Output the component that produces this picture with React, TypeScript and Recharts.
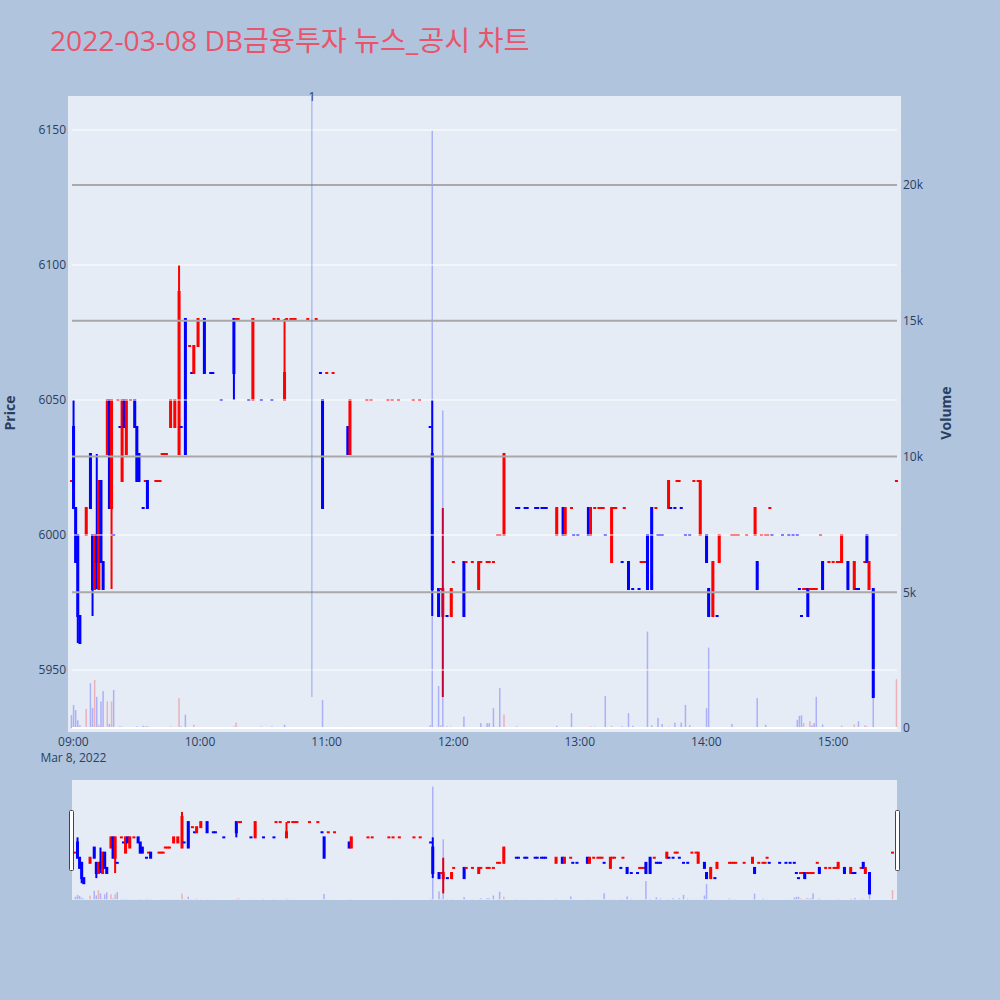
import React from 'react';
import { ComposedChart, Bar, XAxis, YAxis, ReferenceLine } from 'recharts';

// ---------- data (minutes after 09:00, prices in KRW, volume in shares) ----------
const minutes = [
  -1, 0, 1, 2, 3, 6, 8, 9, 10, 11,
  12, 13, 14, 16, 17, 18, 19, 21, 22, 23,
  24, 25, 27, 29, 30, 31, 33, 34, 35, 39,
  40, 41, 42, 43, 44, 46, 48, 50, 51, 53,
  55, 56, 57, 59, 62, 65, 66, 70, 76, 77,
  78, 83, 85, 89, 94, 95, 97, 100, 101, 103,
  104, 105, 111, 115, 117, 118, 120, 123, 130, 131,
  139, 141, 149, 151, 154, 161, 164, 169, 170, 173,
  174, 175, 177, 179, 180, 185, 186, 189, 192, 193,
  196, 197, 199, 201, 202, 204, 210, 211, 214, 215,
  219, 220, 222, 223, 224, 229, 232, 233, 236, 237,
  239, 244, 245, 247, 249, 250, 251, 252, 255, 256,
  257, 260, 261, 263, 265, 268, 269, 270, 271, 272,
  274, 276, 277, 278, 279, 282, 283, 285, 286, 287,
  288, 290, 292, 294, 296, 297, 300, 301, 303, 305,
  306, 312, 313, 314, 315, 319, 323, 324, 326, 328,
  329, 330, 331, 336, 339, 341, 343, 344, 345, 346,
  347, 348, 349, 350, 351, 352, 354, 355, 358, 360,
  362, 363, 364, 367, 370, 371, 372, 375, 376, 377,
  379, 390,
];

const opens = [
  6020, 6040, 6010, 6000, 5970, 6000, 6030, 6000, 5980, 6000,
  5980, 6020, 5990, 6030, 6050, 6010, 6000, 6050, 6040, 6020,
  6050, 6030, 6050, 6050, 6040, 6030, 6010, 6020, 6020, 6020,
  6020, 6020, 6030, 6030, 6030, 6040, 6040, 6030, 6040, 6080,
  6070, 6060, 6060, 6070, 6080, 6060, 6060, 6050, 6080, 6080,
  6080, 6050, 6050, 6050, 6050, 6080, 6080, 6050, 6080, 6080,
  6080, 6080, 6080, 6080, 6060, 6050, 6060, 6060, 6040, 6030,
  6050, 6050, 6050, 6050, 6050, 6050, 6050, 6040, 6030, 5980,
  5980, 5970, 5970, 5970, 5990, 5990, 5990, 5990, 5980, 5990,
  5990, 5990, 5990, 6000, 6000, 6000, 6010, 6010, 6010, 6010,
  6010, 6010, 6010, 6010, 6010, 6000, 6010, 6000, 6010, 6000,
  6000, 6010, 6000, 6010, 6010, 6010, 6010, 6000, 5990, 6010,
  6010, 5990, 6010, 5990, 5980, 5980, 5990, 5990, 5990, 6000,
  6010, 6010, 6000, 6000, 6000, 6010, 6010, 6010, 6020, 6020,
  6010, 6000, 6000, 6020, 6020, 6000, 6000, 5980, 5970, 5970,
  5990, 6000, 6000, 6000, 6000, 6000, 6000, 5990, 6000, 6000,
  6000, 6010, 6000, 6000, 6000, 6000, 6000, 5980, 5970, 5980,
  5980, 5980, 5980, 5980, 5980, 5980, 6000, 5990, 5990, 5990,
  5990, 5990, 5990, 5990, 5980, 5980, 5980, 5990, 6000, 5980,
  5980, 6020,
];

const highs = [
  6020, 6050, 6010, 6000, 5970, 6010, 6030, 6000, 6000, 6030,
  6020, 6020, 5990, 6050, 6050, 6050, 6000, 6050, 6040, 6050,
  6050, 6050, 6050, 6050, 6040, 6030, 6010, 6020, 6020, 6020,
  6020, 6020, 6030, 6030, 6030, 6050, 6050, 6100, 6040, 6080,
  6070, 6060, 6070, 6080, 6080, 6060, 6060, 6050, 6080, 6080,
  6080, 6050, 6080, 6050, 6050, 6080, 6080, 6080, 6080, 6080,
  6080, 6080, 6080, 6080, 6060, 6050, 6060, 6060, 6040, 6050,
  6050, 6050, 6050, 6050, 6050, 6050, 6050, 6040, 6050, 5980,
  5980, 6010, 5970, 5980, 5990, 5990, 5990, 5990, 5990, 5990,
  5990, 5990, 5990, 6000, 6000, 6030, 6010, 6010, 6010, 6010,
  6010, 6010, 6010, 6010, 6010, 6010, 6010, 6010, 6010, 6000,
  6000, 6010, 6010, 6010, 6010, 6010, 6010, 6000, 6010, 6010,
  6010, 5990, 6010, 5990, 5980, 5980, 5990, 5990, 5990, 6000,
  6010, 6010, 6000, 6000, 6000, 6020, 6010, 6010, 6020, 6020,
  6010, 6000, 6000, 6020, 6020, 6020, 6000, 5980, 5990, 5970,
  6000, 6000, 6000, 6000, 6000, 6000, 6010, 5990, 6000, 6000,
  6000, 6010, 6000, 6000, 6000, 6000, 6000, 5980, 5970, 5980,
  5980, 5980, 5980, 5980, 5980, 5980, 6000, 5990, 5990, 5990,
  5990, 5990, 6000, 5990, 5990, 5980, 5980, 5990, 6000, 5990,
  5980, 6020,
];

const lows = [
  6020, 6010, 5990, 5960, 5960, 6000, 6010, 5970, 5980, 5980,
  5980, 5990, 5980, 6030, 6010, 5980, 6000, 6050, 6040, 6020,
  6040, 6030, 6050, 6040, 6020, 6020, 6010, 6020, 6010, 6020,
  6020, 6020, 6030, 6030, 6030, 6040, 6040, 6030, 6040, 6030,
  6070, 6060, 6060, 6070, 6060, 6060, 6060, 6050, 6050, 6080,
  6080, 6050, 6050, 6050, 6050, 6080, 6080, 6050, 6080, 6080,
  6080, 6080, 6080, 6080, 6060, 6010, 6060, 6060, 6030, 6030,
  6050, 6050, 6050, 6050, 6050, 6050, 6050, 6040, 5970, 5970,
  5980, 5940, 5970, 5970, 5990, 5970, 5990, 5990, 5980, 5990,
  5990, 5990, 5990, 6000, 6000, 6000, 6010, 6010, 6010, 6010,
  6010, 6010, 6010, 6010, 6010, 6000, 6000, 6000, 6010, 6000,
  6000, 6000, 6000, 6010, 6010, 6010, 6010, 6000, 5990, 6010,
  6010, 5990, 6010, 5980, 5980, 5980, 5990, 5990, 5990, 5980,
  5980, 6010, 6000, 6000, 6000, 6010, 6010, 6010, 6020, 6020,
  6010, 6000, 6000, 6020, 6020, 6000, 5990, 5970, 5970, 5970,
  5990, 6000, 6000, 6000, 6000, 6000, 6000, 5980, 6000, 6000,
  6000, 6010, 6000, 6000, 6000, 6000, 6000, 5980, 5970, 5980,
  5980, 5970, 5980, 5980, 5980, 5980, 6000, 5980, 5990, 5990,
  5990, 5990, 5990, 5980, 5980, 5980, 5980, 5990, 5990, 5980,
  5940, 6020,
];

const closes = [
  6020, 6010, 5990, 5970, 5960, 6010, 6010, 5980, 6000, 5990,
  6020, 5990, 5980, 6050, 6010, 6050, 6000, 6050, 6040, 6050,
  6040, 6050, 6050, 6040, 6020, 6020, 6010, 6020, 6010, 6020,
  6020, 6020, 6030, 6030, 6030, 6050, 6050, 6090, 6040, 6030,
  6070, 6060, 6070, 6080, 6060, 6060, 6060, 6050, 6060, 6080,
  6080, 6050, 6080, 6050, 6050, 6080, 6080, 6060, 6080, 6080,
  6080, 6080, 6080, 6080, 6060, 6010, 6060, 6060, 6030, 6050,
  6050, 6050, 6050, 6050, 6050, 6050, 6050, 6040, 5980, 5970,
  5980, 5980, 5970, 5980, 5990, 5970, 5990, 5990, 5990, 5990,
  5990, 5990, 5990, 6000, 6000, 6030, 6010, 6010, 6010, 6010,
  6010, 6010, 6010, 6010, 6010, 6010, 6000, 6010, 6010, 6000,
  6000, 6000, 6010, 6010, 6010, 6010, 6010, 6000, 6010, 6010,
  6010, 5990, 6010, 5980, 5980, 5980, 5990, 5990, 5990, 5980,
  5980, 6010, 6000, 6000, 6000, 6020, 6010, 6010, 6020, 6020,
  6010, 6000, 6000, 6020, 6020, 6020, 5990, 5970, 5990, 5970,
  6000, 6000, 6000, 6000, 6000, 6000, 6010, 5980, 6000, 6000,
  6000, 6010, 6000, 6000, 6000, 6000, 6000, 5980, 5970, 5980,
  5980, 5970, 5980, 5980, 5980, 5980, 6000, 5980, 5990, 5990,
  5990, 5990, 6000, 5980, 5990, 5980, 5980, 5990, 5990, 5990,
  5940, 6020,
];

const volumes = [
  480, 850, 660, 280, 100, 700, 1650, 740, 1770, 1150,
  120, 980, 1360, 980, 150, 980, 1400, 40, 60, 50,
  40, 30, 30, 40, 60, 40, 80, 60, 70, 20,
  20, 30, 20, 20, 30, 60, 40, 1100, 60, 490,
  30, 20, 120, 30, 30, 20, 20, 20, 60, 200,
  20, 20, 30, 60, 60, 20, 20, 120, 20, 20,
  20, 20, 20, 20, 30, 1030, 20, 20, 40, 40,
  20, 20, 20, 20, 20, 20, 20, 100, 22000, 1550,
  100, 11700, 60, 60, 20, 420, 20, 20, 40, 180,
  180, 180, 730, 40, 1470, 500, 60, 20, 20, 20,
  20, 20, 20, 20, 20, 80, 20, 20, 550, 20,
  20, 20, 60, 50, 20, 20, 20, 1180, 80, 20,
  20, 60, 20, 550, 80, 20, 20, 20, 20, 3550,
  100, 20, 370, 30, 150, 60, 20, 200, 20, 20,
  200, 850, 100, 20, 20, 20, 730, 2960, 40, 20,
  20, 150, 20, 20, 40, 20, 40, 1100, 20, 120,
  20, 20, 20, 20, 20, 40, 300, 450, 470, 180,
  30, 40, 250, 100, 180, 1150, 20, 130, 20, 20,
  20, 30, 90, 20, 130, 20, 250, 100, 60, 20,
  1150, 1800,
];

const priceTicks = [5950, 6000, 6050, 6100, 6150];
const volumeTicks = [0, 5000, 10000, 15000, 20000];
const timeTicks = [0, 60, 120, 180, 240, 300, 360];
const timeLabels = ['09:00', '10:00', '11:00', '12:00', '13:00', '14:00', '15:00'];
const dateLabel = 'Mar 8, 2022';
const newsMinutes = [113];
const newsLabels = ['1'];
const titleText = '2022-03-08 DB금융투자 뉴스_공시 차트';

// ---------- axis ranges ----------
const PRICE_DOMAIN: [number, number] = [5927.04, 6162.59];
const VOLUME_DOMAIN: [number, number] = [-147, 23278];
const TIME_DOMAIN: [number, number] = [-2.56, 392.23];
const GRID_SPAN: [number, number] = [-0.66, 390.33];

const FONT = '"Open Sans", verdana, arial, sans-serif';
const TICK_COLOR = '#2a3f5f';
const UP = '#ff0000';
const DOWN = '#0000ff';
const UP_VOL = 'rgba(255,0,0,0.25)';
const DOWN_VOL = 'rgba(0,0,255,0.25)';

type Candle = { m: number; o: number; h: number; l: number; c: number; v: number; up: boolean; vUp: boolean };

const candles: Candle[] = (() => {
  let prevC: number | null = null;
  let prevUp = true;
  return minutes.map((m, i) => {
    const o = opens[i];
    const c = closes[i];
    let up: boolean;
    if (c > o) up = true;
    else if (c < o) up = false;
    else if (prevC === null) up = true;
    else if (c > prevC) up = true;
    else if (c < prevC) up = false;
    else up = prevUp;
    const vUp = prevC !== null && c > prevC;
    prevC = c;
    prevUp = up;
    return { m, o, h: highs[i], l: lows[i], c, v: volumes[i], up, vUp };
  });
})();

const minLow = Math.min(...lows);

const CandleShape = (props: any) => {
  const { x, y, width, height, payload } = props;
  if (payload == null || x == null) return null;
  const cx = x + width / 2;
  const ppu = height / (payload.h - PRICE_DOMAIN[0]);
  const py = (v: number) => y + (payload.h - v) * ppu;
  const color = payload.up ? UP : DOWN;
  const yo = py(payload.o);
  const yc = py(payload.c);
  const top = Math.min(yo, yc);
  const bot = Math.max(yo, yc);
  const yh = py(payload.h);
  const yl = py(payload.l);
  return (
    <g>
      <rect x={cx - 1} y={yh} width={2} height={Math.max(yl - yh, 0)} fill={color} />
      <rect x={cx - 1.5} y={top - 1} width={3} height={bot - top + 2} fill={color} />
    </g>
  );
};

const VolumeShape = (props: any) => {
  const { x, y, width, height, payload } = props;
  if (payload == null || x == null) return null;
  const cx = x + width / 2;
  return (
    <rect
      x={cx - 0.75}
      y={y}
      width={1.5}
      height={Math.max(height, 0)}
      fill={payload.vUp ? UP_VOL : DOWN_VOL}
    />
  );
};

const TimeTick = (props: any) => {
  const { x, y, payload } = props;
  const i = timeTicks.indexOf(payload.value);
  return (
    <g>
      <text x={x} y={y + 14} textAnchor="middle" fontSize={12} fill={TICK_COLOR} fontFamily={FONT}>
        {timeLabels[i]}
      </text>
      {i === 0 && (
        <text x={x} y={y + 30} textAnchor="middle" fontSize={12} fill={TICK_COLOR} fontFamily={FONT}>
          {dateLabel}
        </text>
      )}
    </g>
  );
};

const fmtVol = (v: number) => (v === 0 ? '0' : `${v / 1000}k`);

const NewsLabel = (text: string) => (props: any) => {
  const vb = props.viewBox || {};
  return (
    <text x={vb.x} y={vb.y + 5} textAnchor="middle" fontSize={12} fill={TICK_COLOR} fontFamily={FONT}>
      {text}
    </text>
  );
};

export default function App() {
  return (
    <div
      style={{
        position: 'absolute',
        left: 0,
        top: 0,
        width: 1000,
        height: 1000,
        background: '#b0c4de',
        overflow: 'hidden',
      }}
    >
      <div style={{ position: 'absolute', left: 68, top: 96, width: 833, height: 636, background: '#e5ecf6' }} />
      <div style={{ position: 'absolute', left: 72, top: 780, width: 825, height: 120, background: '#e5ecf6' }} />

      <div style={{ position: 'absolute', left: 0, top: 0 }}>
        <ComposedChart width={1000} height={770} data={candles} margin={{ top: 96, right: 39, bottom: 8, left: 8 }}>
          <XAxis
            xAxisId="c"
            type="number"
            dataKey="m"
            domain={TIME_DOMAIN}
            ticks={timeTicks}
            tick={<TimeTick />}
            tickLine={false}
            axisLine={false}
            tickSize={0}
            tickMargin={0}
            height={30}
            allowDataOverflow
          />
          <XAxis xAxisId="v" type="number" dataKey="m" domain={TIME_DOMAIN} hide allowDataOverflow />
          <YAxis
            yAxisId="p"
            orientation="left"
            type="number"
            domain={PRICE_DOMAIN}
            ticks={priceTicks}
            width={60}
            tickLine={false}
            axisLine={false}
            tickSize={0}
            tickMargin={2}
            tick={{ fill: TICK_COLOR, fontSize: 12, fontFamily: FONT }}
            allowDataOverflow
          />
          <YAxis
            yAxisId="vol"
            orientation="right"
            type="number"
            domain={VOLUME_DOMAIN}
            ticks={volumeTicks}
            tickFormatter={fmtVol}
            width={60}
            tickLine={false}
            axisLine={false}
            tickSize={0}
            tickMargin={2}
            tick={{ fill: TICK_COLOR, fontSize: 12, fontFamily: FONT }}
            allowDataOverflow
          />
          {priceTicks.map((v) => (
            <ReferenceLine
              key={`pg${v}`}
              xAxisId="c"
              yAxisId="p"
              segment={[{ x: GRID_SPAN[0], y: v }, { x: GRID_SPAN[1], y: v }]}
              stroke="#ffffff"
              strokeWidth={1}
            />
          ))}
          {volumeTicks.map((v) => (
            <ReferenceLine
              key={`vg${v}`}
              xAxisId="c"
              yAxisId="vol"
              segment={[{ x: GRID_SPAN[0], y: v }, { x: GRID_SPAN[1], y: v }]}
              stroke={v === 0 ? '#ffffff' : '#a9a9a9'}
              strokeWidth={2}
            />
          ))}
          <Bar xAxisId="c" yAxisId="p" dataKey="h" shape={<CandleShape />} isAnimationActive={false} />
          <Bar xAxisId="v" yAxisId="vol" dataKey="v" shape={<VolumeShape />} isAnimationActive={false} />
          {newsMinutes.map((m, i) => (
            <ReferenceLine
              key={`news${m}`}
              xAxisId="c"
              yAxisId="p"
              segment={[{ x: m, y: minLow }, { x: m, y: PRICE_DOMAIN[1] }]}
              stroke="rgba(65,105,225,0.35)"
              strokeWidth={1.5}
              label={NewsLabel(newsLabels[i])}
            />
          ))}
        </ComposedChart>
      </div>

      <div style={{ position: 'absolute', left: 0, top: 0 }}>
        <ComposedChart width={1000} height={920} data={candles} margin={{ top: 780, right: 103, bottom: 20, left: 72 }}>
          <XAxis xAxisId="c" type="number" dataKey="m" domain={TIME_DOMAIN} hide allowDataOverflow />
          <XAxis xAxisId="v" type="number" dataKey="m" domain={TIME_DOMAIN} hide allowDataOverflow />
          <YAxis yAxisId="p" type="number" domain={PRICE_DOMAIN} hide allowDataOverflow />
          <YAxis yAxisId="vol" type="number" domain={VOLUME_DOMAIN} hide allowDataOverflow />
          <Bar xAxisId="c" yAxisId="p" dataKey="h" shape={<CandleShape />} isAnimationActive={false} />
          <Bar xAxisId="v" yAxisId="vol" dataKey="v" shape={<VolumeShape />} isAnimationActive={false} />
        </ComposedChart>
      </div>

      <svg width={1000} height={1000} style={{ position: 'absolute', left: 0, top: 0, pointerEvents: 'none' }}>
        <text
          x={50}
          y={51}
          fontSize={28.2}
          fill="#e9546b"
          fontFamily={'"Open Sans", "Noto Sans CJK KR", sans-serif'}
        >
          {titleText}
        </text>
        <text
          x={15}
          y={413}
          transform="rotate(-90 15 413)"
          textAnchor="middle"
          fontSize={14}
          fontWeight="bold"
          fill="#2a3f5f"
          fontFamily={FONT}
        >
          Price
        </text>
        <text
          x={951}
          y={413}
          transform="rotate(-90 951 413)"
          textAnchor="middle"
          fontSize={14}
          fontWeight="bold"
          fill="#2a3f5f"
          fontFamily={FONT}
        >
          Volume
        </text>
        <rect x={69.5} y={810.5} width={4} height={60} rx={1} fill="#ffffff" stroke="#444444" strokeWidth={1} />
        <rect x={895.5} y={810.5} width={4} height={60} rx={1} fill="#ffffff" stroke="#444444" strokeWidth={1} />
      </svg>
    </div>
  );
}
